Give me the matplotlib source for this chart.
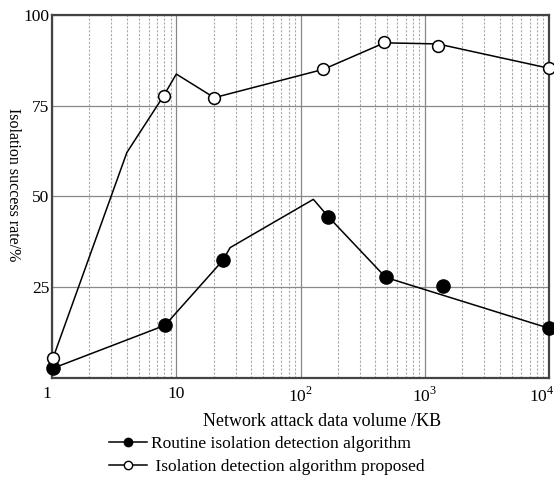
import matplotlib
matplotlib.use("Agg")
import matplotlib.pyplot as plt
import matplotlib.transforms as mtransforms
from matplotlib.ticker import LogLocator, NullFormatter

plt.rcParams["font.family"] = ["Liberation Serif", "DejaVu Serif"]
plt.rcParams["mathtext.fontset"] = "custom"
plt.rcParams["mathtext.rm"] = "Liberation Serif"

# routine algorithm (filled markers) - line vertices and marker points
routine_line_x = [1.02, 8.1, 23.7, 27.1, 126.8, 167.5, 485, 10000]
routine_line_y = [2.7, 14.5, 32.4, 35.9, 49.2, 44.4, 27.7, 13.7]
routine_pts_x = [1.02, 8.1, 23.7, 167.5, 485, 1393, 10000]
routine_pts_y = [2.7, 14.5, 32.4, 44.4, 27.7, 25.4, 13.7]

# proposed algorithm (open markers)
proposed_line_x = [1.02, 4.0, 7.9, 10.0, 20.2, 152.6, 473, 1271, 10000]
proposed_line_y = [5.6, 62.1, 77.7, 83.7, 77.2, 85.0, 92.3, 92.0, 85.3]
proposed_pts_x = [1.02, 7.9, 20.2, 152.6, 473, 1271, 10000]
proposed_pts_y = [5.6, 77.7, 77.2, 85.0, 92.5, 91.3, 85.3]

xticks = [1, 10, 100, 1000, 10000]
xtick_labels = ["1", "10", "$10^2$", "$10^3$", "$10^4$"]
yticks = [25, 50, 75, 100]

fig = plt.figure(figsize=(5.54, 4.8), dpi=100)
ax = fig.add_axes([0.094, 0.2125, 0.897, 0.7565])

ax.set_xscale("log")
ax.set_xlim(1, 10000)
ax.set_ylim(0, 100)

ax.xaxis.set_minor_locator(LogLocator(base=10, subs=range(2, 10)))
ax.xaxis.set_minor_formatter(NullFormatter())
ax.grid(which="minor", axis="x", color="#aaaaaa", linestyle=(0, (2, 1.5)), linewidth=0.8)
ax.grid(which="major", axis="x", color="#888888", linestyle="-", linewidth=0.9)
ax.grid(which="major", axis="y", color="#888888", linestyle="-", linewidth=0.9)
ax.set_axisbelow(True)

ax.plot(routine_line_x, routine_line_y, color="black", linewidth=1.1, clip_on=False)
ax.plot(proposed_line_x, proposed_line_y, color="black", linewidth=1.1, clip_on=False)
ax.plot(routine_pts_x, routine_pts_y, linestyle="none", marker="o", markersize=9.5,
        markerfacecolor="black", markeredgecolor="black", clip_on=False, zorder=5)
ax.plot(proposed_pts_x, proposed_pts_y, linestyle="none", marker="o", markersize=8.5,
        markerfacecolor="white", markeredgecolor="black", markeredgewidth=1.1,
        clip_on=False, zorder=5)

ax.set_xticks(xticks)
ax.set_xticklabels(xtick_labels)
ax.set_yticks(yticks)
ax.tick_params(axis="both", which="both", length=0, labelsize=12.5)
ax.tick_params(axis="x", pad=6)
ax.tick_params(axis="y", pad=2)

# keep the last x label inside the figure
last = ax.get_xticklabels()[-1]
last.set_horizontalalignment("right")
last.set_transform(last.get_transform() + mtransforms.ScaledTranslation(5 / 100, 0, fig.dpi_scale_trans))
first = ax.get_xticklabels()[0]
first.set_transform(first.get_transform() + mtransforms.ScaledTranslation(-5 / 100, 0, fig.dpi_scale_trans))

for s in ax.spines.values():
    s.set_color("#444444")
    s.set_linewidth(1.6)

ax.set_xlabel("Network attack data volume /KB", fontsize=13, labelpad=3)
ax.xaxis.set_label_coords(0.543, -0.097)
fig.text(0.024, 0.615, "Isolation success rate/%", rotation=270, fontsize=11.5,
         ha="center", va="center")

# legend handles
h1, = ax.plot([], [], color="black", linewidth=1.1, marker="o", markersize=6,
              markerfacecolor="black", markeredgecolor="black")
h2, = ax.plot([], [], color="black", linewidth=1.1, marker="o", markersize=6,
              markerfacecolor="white", markeredgecolor="black")
fig.legend([h1, h2], ["Routine isolation detection algorithm",
                      " Isolation detection algorithm proposed"],
           loc="upper left", bbox_to_anchor=(0.197, 0.092), frameon=False,
           fontsize=12.5, handlelength=2.2, handletextpad=0.2, labelspacing=0.38,
           borderpad=0, borderaxespad=0)

fig.savefig("out.png", dpi=100)
